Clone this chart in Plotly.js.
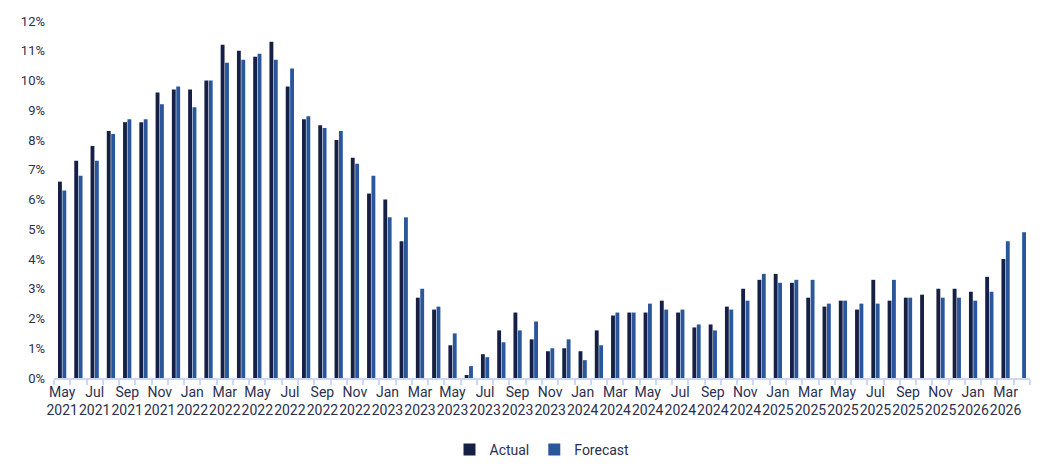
<!DOCTYPE html>
<html>
<head>
<meta charset="utf-8">
<script src="https://cdn.plot.ly/plotly-3.0.1.min.js"></script>
<style>
  html, body { margin: 0; padding: 0; background: #fff; }
  #chart { width: 1055px; height: 471px; }
</style>
</head>
<body>
<div id="chart"></div>
<script>
var months = ['Jan','Feb','Mar','Apr','May','Jun','Jul','Aug','Sep','Oct','Nov','Dec'];

// May 2021 .. Apr 2026
var categories = [];
for (var i = 0; i < 60; i++) {
  var m = (4 + i) % 12;
  var yr = 2021 + Math.floor((4 + i) / 12);
  categories.push(months[m] + ' ' + yr);
}

var actual = [
  6.6, 7.3, 7.8, 8.3, 8.6, 8.6, 9.6, 9.7,
  9.7, 10.0, 11.2, 11.0, 10.8, 11.3, 9.8, 8.7, 8.5, 8.0, 7.4, 6.2,
  6.0, 4.6, 2.7, 2.3, 1.1, 0.1, 0.8, 1.6, 2.2, 1.3, 0.9, 1.0,
  0.9, 1.6, 2.1, 2.2, 2.2, 2.6, 2.2, 1.7, 1.8, 2.4, 3.0, 3.3,
  3.5, 3.2, 2.7, 2.4, 2.6, 2.3, 3.3, 2.6, 2.7, 2.8, 3.0, 3.0,
  2.9, 3.4, 4.0, null
];

var forecast = [
  6.3, 6.8, 7.3, 8.2, 8.7, 8.7, 9.2, 9.8,
  9.1, 10.0, 10.6, 10.7, 10.9, 10.7, 10.4, 8.8, 8.4, 8.3, 7.2, 6.8,
  5.4, 5.4, 3.0, 2.4, 1.5, 0.4, 0.7, 1.2, 1.6, 1.9, 1.0, 1.3,
  0.6, 1.1, 2.2, 2.2, 2.5, 2.3, 2.3, 1.8, 1.6, 2.3, 2.6, 3.5,
  3.2, 3.3, 3.3, 2.5, 2.6, 2.5, 2.5, 3.3, 2.7, null, 2.7, 2.7,
  2.6, 2.9, 4.6, 4.9
];

// label every other month, two lines
var tickText = categories.map(function (c, i) {
  return i % 2 === 0 ? c.replace(' ', '<br>') : '';
});

var textColor = '#2b2f4f';
var font = { family: 'Roboto, sans-serif', size: 14, color: textColor };

var data = [
  { x: categories, y: actual, type: 'bar', name: 'Actual',
    marker: { color: '#162046' } },
  { x: categories, y: forecast, type: 'bar', name: 'Forecast',
    marker: { color: '#2a579c' } }
];

var layout = {
  width: 1055, height: 471,
  margin: { l: 54, r: 25, t: 21, b: 93 },
  paper_bgcolor: '#fff', plot_bgcolor: '#fff',
  font: font,
  barmode: 'group', bargap: 0.46, bargroupgap: 0.12,
  showlegend: true,
  legend: { orientation: 'h', x: 0.5, xanchor: 'center',
            yref: 'container', y: 0.045, yanchor: 'middle',
            itemwidth: 30, tracegroupgap: 0,
            font: { family: 'Roboto, sans-serif', size: 14, color: textColor } },
  xaxis: {
    type: 'category',
    tickmode: 'array', tickvals: categories, ticktext: tickText,
    tickson: 'boundaries', ticks: 'outside', ticklen: 5, tickwidth: 2, tickcolor: '#cdd6f2',
    showline: true, linecolor: '#cdd6f2', linewidth: 2,
    showgrid: false, zeroline: false, tickangle: 0,
    tickfont: { family: 'Roboto, sans-serif', size: 14, color: textColor }
  },
  yaxis: {
    range: [0, 12], dtick: 1, ticksuffix: '%',
    showgrid: false, zeroline: false, showline: false,
    ticklabelstandoff: 8,
    tickfont: { family: 'Roboto, sans-serif', size: 13, color: textColor }
  }
};

Plotly.newPlot('chart', data, layout, { staticPlot: true });
</script>
</body>
</html>
